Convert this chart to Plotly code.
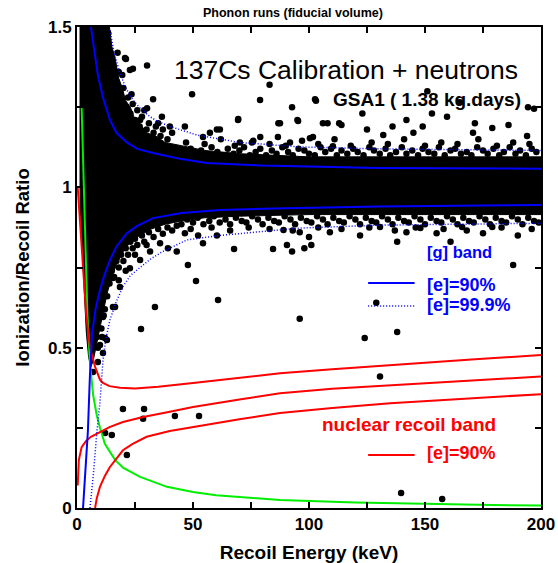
import plotly.graph_objects as go

# ---------------- data ----------------
# dense electron-recoil cloud envelope (polygon)
cloud_x = [1.3, 1.3, 14, 15, 16.5, 18, 19.5, 21, 23, 25, 27, 30, 34, 38, 45, 55, 70, 100, 150, 200,
           200, 150, 100, 70, 55, 45, 38, 32, 27, 23, 20, 17, 15, 13, 11, 9.5, 8, 7, 6, 5, 4, 3, 2, 1.3]
cloud_y = [0.95, 1.5, 1.5, 1.44, 1.40, 1.34, 1.31, 1.27, 1.25, 1.21, 1.20, 1.17, 1.16, 1.14, 1.13, 1.115, 1.105, 1.095, 1.095, 1.095,
           0.915, 0.915, 0.915, 0.91, 0.905, 0.895, 0.885, 0.87, 0.85, 0.83, 0.80, 0.76, 0.72, 0.67, 0.60, 0.55, 0.50, 0.46, 0.44, 0.47, 0.55, 0.70, 0.85, 0.95]

# isolated events (x, y)
events = [(21.1, 1.40), (24.1, 1.37), (30.2, 1.38), (49.6, 1.29), (32.8, 1.275), (69.5, 1.213), (78.9, 1.272),
          (86.8, 1.20), (102.6, 1.275), (92.7, 1.25), (151, 1.30), (153, 1.23), (123, 1.23), (194.4, 1.25),
          (142, 1.21), (159.5, 1.22), (171.5, 1.20), (179, 1.185), (186, 1.194), (95, 1.21), (106, 1.20),
          (114, 1.194), (125, 1.18), (136, 1.19), (145, 1.17), (170.7, 1.17), (194, 1.16), (101.7, 1.157),
          (132, 1.163), (149, 1.19), (83, 1.32), (103, 1.27), (69.4, 1.21), (87.5, 1.20), (95.3, 1.207),
          (108, 1.20), (113, 1.20), (61.6, 1.18), (57.3, 1.17), (79, 1.157), (86.6, 1.157), (100.4, 1.153),
          (70.2, 1.14), (75.4, 1.14), (91.8, 1.14), (110.3, 1.128), (54.3, 1.157), (20.7, 1.403), (22.8, 1.366),
          (30.2, 1.247), (36.6, 1.22), (46.5, 1.19), (60.3, 1.18), (27.2, 1.21), (197, 1.245), (165, 1.265),
          (47.8, 0.758), (51.3, 0.708), (60.8, 0.649), (33.6, 0.627), (27.6, 0.558), (15.5, 0.627),
          (18.5, 0.689), (22.8, 0.748), (27.2, 0.773), (15, 0.742), (15.5, 0.717), (43, 0.80), (39.2, 0.81),
          (54.3, 0.826), (52.2, 0.85), (60.3, 0.85), (46.5, 0.857), (35.8, 0.826), (31.5, 0.80), (11.2, 0.596),
          (10.8, 0.533), (12.9, 0.524), (11.2, 0.483), (9, 0.50), (67.7, 0.808), (84.5, 0.808), (16.4, 0.627),
          (96, 0.59), (124, 0.53), (138, 0.549), (129, 0.64), (188, 0.758), (90.5, 0.82), (98, 0.81),
          (101, 0.82), (92.7, 0.80), (138, 0.83), (161, 0.83), (190, 0.85), (175, 0.857), (155, 0.857),
          (148, 0.873), (142, 0.86), (109, 0.86), (122, 0.85), (100, 0.845), (89, 0.867), (96, 0.86),
          (130.6, 0.876), (166, 0.876), (179, 0.876), (130.6, 0.41), (52.6, 0.287),
          (19.8, 0.309), (28.9, 0.309), (28.5, 0.278), (42.2, 0.287), (12.1, 0.234), (15, 0.228),
          (21.5, 0.165), (6.9, 0.424), (139.7, 0.047), (157.4, 0.028), (12.1, 0.53), (9.9, 0.508),
          (9, 0.455), (8.6, 0.533)]

# events hugging the upper edge of the dense band
fringe_up = [(15, 1.38), (16, 1.33), (17, 1.30), (18, 1.36), (19, 1.27), (20, 1.31), (21, 1.25), (22, 1.28),
             (23, 1.23), (24, 1.26), (25, 1.21), (26, 1.24), (27, 1.19), (28, 1.22), (30, 1.18), (31, 1.20),
             (33, 1.17), (34, 1.19), (36, 1.16), (37, 1.18), (39, 1.15), (41, 1.17), (12.5, 1.45), (13.5, 1.48),
             (11, 1.47), (17.5, 1.42), (19.5, 1.35), (23.5, 1.29), (29, 1.24), (35, 1.2), (40, 1.19),
             (44, 1.11), (46.5, 1.10), (49, 1.12), (51, 1.105), (53.5, 1.115), (56, 1.10), (58, 1.125),
             (60.5, 1.11), (63, 1.10), (65, 1.12), (67.5, 1.105), (70, 1.115), (72, 1.125), (74.5, 1.10),
             (77, 1.11), (79, 1.12), (81.5, 1.10), (84, 1.115), (86, 1.105), (88.5, 1.125), (91, 1.11),
             (93, 1.10), (95.5, 1.12), (98, 1.115), (100, 1.105), (102.5, 1.10), (105, 1.125), (107, 1.11),
             (109.5, 1.12), (112, 1.10), (114, 1.115), (116.5, 1.105), (119, 1.12), (121, 1.11), (123.5, 1.10),
             (126, 1.125), (128, 1.115), (130.5, 1.105), (133, 1.12), (135, 1.10), (137.5, 1.11), (140, 1.125),
             (142, 1.105), (144.5, 1.115), (147, 1.10), (149, 1.12), (151.5, 1.11), (154, 1.105), (156, 1.125),
             (158.5, 1.10), (161, 1.115), (163, 1.12), (165.5, 1.105), (168, 1.11), (170, 1.10), (172.5, 1.125),
             (175, 1.115), (177, 1.105), (179.5, 1.12), (182, 1.10), (184, 1.11), (186.5, 1.125), (189, 1.105),
             (191, 1.115), (193.5, 1.10), (196, 1.12), (198, 1.11),
             (47, 1.14), (55, 1.135), (62, 1.15), (68, 1.13), (76, 1.145), (83, 1.135), (90, 1.13), (97, 1.145),
             (104, 1.135), (111, 1.15), (118, 1.13), (127, 1.14), (134, 1.135), (141, 1.15), (150, 1.13),
             (157, 1.14), (164, 1.135), (173, 1.15), (181, 1.13), (188, 1.14), (195, 1.135)]

# events hugging the lower edge of the dense band
fringe_lo = [(14, 0.70), (15, 0.74), (16, 0.72), (17, 0.77), (18, 0.75), (19, 0.79), (20, 0.77), (21, 0.81),
             (22, 0.79), (23, 0.83), (24, 0.81), (25, 0.84), (26, 0.82), (28, 0.85), (29, 0.83), (31, 0.86),
             (33, 0.845), (35, 0.87), (37, 0.855), (39, 0.875), (41, 0.865), (43, 0.88), (12, 0.62), (13, 0.66),
             (10.5, 0.56), (11.5, 0.60), (18, 0.71), (21, 0.74), (25, 0.79), (30, 0.82),
             (45, 0.885), (47.5, 0.90), (50, 0.89), (52, 0.905), (54.5, 0.885), (57, 0.895), (59, 0.91),
             (61.5, 0.89), (64, 0.90), (66, 0.885), (68.5, 0.905), (71, 0.895), (73, 0.89), (75.5, 0.91),
             (78, 0.90), (80, 0.885), (82.5, 0.905), (85, 0.895), (87, 0.89), (89.5, 0.91), (92, 0.90),
             (94, 0.885), (96.5, 0.905), (99, 0.895), (101, 0.89), (103.5, 0.91), (106, 0.90), (108, 0.885),
             (110.5, 0.905), (113, 0.895), (115, 0.89), (117.5, 0.91), (120, 0.90), (122, 0.885), (124.5, 0.905),
             (127, 0.895), (129, 0.89), (131.5, 0.91), (134, 0.90), (136, 0.885), (138.5, 0.905), (141, 0.895),
             (143, 0.89), (145.5, 0.91), (148, 0.90), (150, 0.885), (152.5, 0.905), (155, 0.895), (157, 0.89),
             (159.5, 0.91), (162, 0.90), (164, 0.885), (166.5, 0.905), (169, 0.895), (171, 0.89), (173.5, 0.91),
             (176, 0.90), (178, 0.885), (180.5, 0.905), (183, 0.895), (185, 0.89), (187.5, 0.91), (190, 0.90),
             (192, 0.885), (194.5, 0.905), (197, 0.895), (199, 0.89),
             (49, 0.87), (58, 0.875), (66, 0.865), (74, 0.875), (83, 0.87), (93, 0.865), (104, 0.875),
             (114, 0.87), (126, 0.875), (137, 0.865), (146, 0.875), (158, 0.87), (168, 0.865), (183, 0.875),
             (196, 0.87)]

# gamma band 90% (solid blue)
g90_up_x = [6.0, 7.5, 9, 11.2, 14.2, 17, 21.5, 26, 32.8, 45, 56, 80, 130, 200]
g90_up_y = [1.5, 1.42, 1.35, 1.28, 1.21, 1.17, 1.14, 1.12, 1.107, 1.088, 1.076, 1.068, 1.06, 1.058]
g90_lo_x = [2.6, 3.5, 4.7, 5.5, 6.5, 8, 9.9, 12, 14.2, 17, 21.5, 26, 32.8, 45, 61.6, 90, 130, 200]
g90_lo_y = [0.0, 0.12, 0.24, 0.40, 0.545, 0.62, 0.68, 0.73, 0.773, 0.815, 0.857, 0.88, 0.904, 0.92, 0.929, 0.935, 0.94, 0.945]
# gamma band 99.9% (dotted blue)
g999_up_x = [14.2, 16, 18.5, 21, 24.1, 27.5, 31.5, 35, 40, 46, 51.7, 70, 96, 130, 200]
g999_up_y = [1.49, 1.42, 1.356, 1.31, 1.272, 1.245, 1.22, 1.205, 1.19, 1.175, 1.163, 1.14, 1.126, 1.12, 1.115]
g999_lo_x = [5.6, 7, 8.6, 9.9, 11.2, 12.5, 14.2, 17, 19.8, 23, 27.2, 32, 37, 47.4, 61.6, 96, 130, 200]
g999_lo_y = [0.0, 0.1, 0.24, 0.33, 0.46, 0.53, 0.586, 0.645, 0.69, 0.725, 0.75, 0.778, 0.80, 0.836, 0.85, 0.873, 0.882, 0.888]

# nuclear recoil band (red)
nr_up_x = [0.3, 1, 2, 3, 4, 5.6, 7.8, 9.9, 11.2, 14, 18.5, 25, 35, 50, 70, 87.5, 110, 135, 170, 200]
nr_up_y = [1.0, 0.93, 0.82, 0.70, 0.60, 0.50, 0.44, 0.40, 0.39, 0.38, 0.375, 0.373, 0.378, 0.39, 0.405, 0.42, 0.433, 0.446, 0.463, 0.477]
nr_mid_x = [0.3, 0.8, 2, 4, 6, 9.9, 14, 19.8, 28.5, 40, 50, 70, 87.5, 110, 135, 170, 200]
nr_mid_y = [0.07, 0.15, 0.19, 0.21, 0.222, 0.237, 0.252, 0.268, 0.284, 0.30, 0.315, 0.338, 0.358, 0.372, 0.383, 0.398, 0.41]
nr_lo_x = [7.8, 8.5, 9.9, 12, 14.2, 17, 19.8, 24, 30, 40, 50, 70, 87.5, 110, 135, 170, 200]
nr_lo_y = [0.0, 0.03, 0.066, 0.10, 0.128, 0.155, 0.18, 0.20, 0.222, 0.24, 0.253, 0.277, 0.296, 0.312, 0.327, 0.342, 0.355]

# threshold (green)
thr_x = [2.0, 2.2, 2.4, 2.8, 3.5, 4.5, 5.6, 7, 8.5, 9.9, 12, 16.4, 20, 27.2, 38.8, 50, 60, 87.5, 120, 150, 179, 200]
thr_y = [1.25, 1.2, 1.1, 0.99, 0.8, 0.6, 0.45, 0.35, 0.29, 0.25, 0.2, 0.15, 0.125, 0.097, 0.066, 0.05, 0.04, 0.025, 0.017, 0.012, 0.009, 0.008]

x_ticks = [0, 25, 50, 75, 100, 125, 150, 175, 200]
x_labels = ["0", "", "50", "", "100", "", "150", "", "200"]
y_ticks = [0, 0.25, 0.5, 0.75, 1.0, 1.25, 1.5]
y_labels = ["0", "", "0.5", "", "1", "", "1.5"]

# legend sample segments
leg_x = [125.5, 145.5]
leg_g90_y = [0.702, 0.702]
leg_g999_y = [0.630, 0.630]
leg_nr_y = [0.165, 0.165]

FONT = "Liberation Sans, Arial, sans-serif"
BLUE = "#0000ff"
RED = "#ff0000"
GREEN = "#00ee00"
DOT = "1px,2px"

fig = go.Figure()
fig.add_trace(go.Scatter(x=cloud_x, y=cloud_y, mode="lines", fill="toself",
                         fillcolor="black", line=dict(color="black", width=1), hoverinfo="skip"))
for pts in [events, fringe_up, fringe_lo]:
    fig.add_trace(go.Scatter(x=[p[0] for p in pts], y=[p[1] for p in pts], mode="markers",
                             marker=dict(color="black", size=6.5, symbol="circle", line=dict(width=0))))


def line(xs, ys, color, dash="solid", width=2):
    fig.add_trace(go.Scatter(x=xs, y=ys, mode="lines", line=dict(color=color, width=width, dash=dash)))


line(thr_x, thr_y, GREEN)
line(nr_up_x, nr_up_y, RED)
line(nr_mid_x, nr_mid_y, RED)
line(nr_lo_x, nr_lo_y, RED)
line(g999_up_x, g999_up_y, BLUE, DOT, 1.5)
line(g999_lo_x, g999_lo_y, BLUE, DOT, 1.5)
line(g90_up_x, g90_up_y, BLUE)
line(g90_lo_x, g90_lo_y, BLUE)
line(leg_x, leg_g90_y, BLUE)
line(leg_x, leg_g999_y, BLUE, DOT, 1.5)
line(leg_x, leg_nr_y, RED)

ann = []


def text(t, x, y, size, color="black", bold=True, xanchor="left", xref="x", yref="y"):
    ann.append(dict(text=t, x=x, y=y, xref=xref, yref=yref, showarrow=False, xanchor=xanchor,
                    yanchor="middle", font=dict(family=FONT, size=size, color=color,
                                                weight="bold" if bold else "normal")))


text("137Cs Calibration + neutrons", 41, 1.367, 26.5, bold=False)
text("GSA1 ( 1.38 kg.days)", 109.5, 1.273, 19)
text("[g] band", 150, 0.798, 16.5, BLUE)
text("[e]=90%", 150, 0.694, 18, BLUE)
text("[e]=99.9%", 150, 0.633, 18, BLUE)
text("nuclear recoil band", 104.7, 0.259, 19, RED)
text("[e]=90%", 150, 0.171, 18, RED)
text("Phonon runs (fiducial volume)", (293 - 77) / 464, 1 + (27 - 13) / 481, 12.5,
     xanchor="center", xref="x domain", yref="paper")
fig.update_layout(annotations=ann)

axis_common = dict(showline=True, linecolor="black", linewidth=2, mirror="allticks",
                   ticks="inside", ticklen=6, tickwidth=1.5, tickcolor="black",
                   showgrid=False, zeroline=False, automargin=False,
                   tickfont=dict(family=FONT, size=17, color="black", weight="bold"))
fig.update_xaxes(range=[0, 200], tickvals=x_ticks, ticktext=x_labels,
                 title=dict(text="Recoil Energy (keV)",
                            font=dict(family=FONT, size=19, color="black", weight="bold"), standoff=14),
                 **axis_common)
fig.update_yaxes(range=[0, 1.5], tickvals=y_ticks, ticktext=y_labels,
                 title=dict(text="Ionization/Recoil Ratio",
                            font=dict(family=FONT, size=18.5, color="black", weight="bold"), standoff=13),
                 **axis_common)
fig.update_layout(width=558, height=563, margin=dict(l=77, r=17, t=27, b=55),
                  paper_bgcolor="white", plot_bgcolor="white", showlegend=False)
fig.write_html("out.html", config={"displayModeBar": False},
               post_script="document.body.style.margin='0';")
